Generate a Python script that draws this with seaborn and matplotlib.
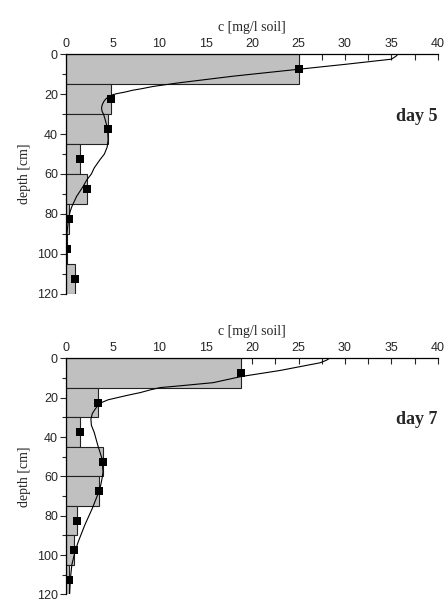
import numpy as np
import pandas as pd
import matplotlib
matplotlib.use("Agg")
import matplotlib.pyplot as plt
import seaborn as sns
from matplotlib.ticker import MultipleLocator

# layer midpoints (15 cm layers)
mid_depth = [7.5, 22.5, 37.5, 52.5, 67.5, 82.5, 97.5, 112.5]

# measured concentration per layer
day5_c = [25.1, 4.85, 4.5, 1.45, 2.23, 0.32, 0.07, 0.9]
day7_c = [18.8, 3.44, 1.5, 3.92, 3.5, 1.16, 0.88, 0.3]

# model curve
day5_curve_c = [35.7, 35.5, 35.0, 30.2, 25.1, 18.0, 12.2, 10.8, 9.3, 8.1, 7.1, 6.3, 5.5,
                5.0, 4.6, 4.3, 4.05, 3.9, 3.82, 3.8, 3.85, 4.0, 4.2, 4.45, 4.5, 4.4,
                4.1, 3.6, 3.0, 2.7, 2.2, 1.8, 1.1, 0.6, 0.4, 0.25, 0.07, 0.02, 0.0]
day5_curve_d = [0, 1.0, 2.5, 5.0, 7.5, 11.0, 14.3, 15.2, 16.2, 17.3, 18.1, 19.0, 19.7,
                20.3, 21.2, 22.2, 23.6, 25.0, 26.2, 27.2, 28.6, 30.0, 33.0, 37.5, 43.0, 46.5,
                50.0, 53.0, 57.0, 60.0, 63.0, 66.3, 71.3, 76.3, 79.0, 82.2, 89.7, 100, 120]
day7_curve_c = [28.3, 28.0, 27.3, 23.0, 18.8, 15.8, 12.0, 10.1, 9.0, 8.0, 6.7, 5.5, 4.5,
                3.8, 3.4, 3.1, 2.8, 2.65, 2.7, 3.0, 3.4, 3.85, 3.95, 3.85, 3.7, 3.5,
                2.8, 2.0, 1.3, 0.95, 0.6, 0.45, 0.35]
day7_curve_d = [0, 0.9, 2.2, 6.1, 9.2, 12.3, 14.0, 14.8, 16.0, 17.3, 18.6, 19.9, 21.0,
                22.4, 23.9, 25.8, 28.0, 30.8, 34.0, 37.5, 44.3, 51.0, 57.7, 61.0, 64.5, 67.8,
                76.2, 84.6, 93.0, 98.0, 104.8, 111.5, 120]

layer_edges = [0, 15, 30, 45, 60, 75, 90, 105, 120]
x_ticks = [0, 5, 10, 15, 20, 25, 30, 35, 40]
y_ticks = [0, 20, 40, 60, 80, 100, 120]

sns.set_style("ticks")
plt.rcParams["font.family"] = ["Liberation Sans", "DejaVu Sans"]

fig = plt.figure(figsize=(4.45, 6.02), dpi=100)
ax1 = fig.add_axes([0.149, 0.512, 0.835, 0.398])
ax2 = fig.add_axes([0.149, 0.0125, 0.835, 0.392])

panels = [
    (ax1, day5_c, day5_curve_c, day5_curve_d, "day 5"),
    (ax2, day7_c, day7_curve_c, day7_curve_d, "day 7"),
]

for ax, vals, cc, cd, label in panels:
    df = pd.DataFrame({"depth": mid_depth, "c": vals})
    sns.histplot(data=df, y="depth", weights="c", bins=layer_edges, ax=ax,
                 color="#c0c0c0", edgecolor="#222222", linewidth=0.8, alpha=1)
    sns.lineplot(x=cc, y=cd, sort=False, estimator=None, ax=ax,
                 color="black", linewidth=0.8)
    sns.scatterplot(data=df, x="c", y="depth", ax=ax, marker="s", s=28,
                    color="black", edgecolor="black", linewidth=0, zorder=5)

    ax.set_xlim(0, 40)
    ax.set_ylim(120, 0)
    ax.xaxis.tick_top()
    ax.xaxis.set_label_position("top")
    ax.set_xticks(x_ticks)
    ax.set_yticks(y_ticks)
    ax.xaxis.set_minor_locator(MultipleLocator(2.5))
    ax.yaxis.set_minor_locator(MultipleLocator(10))
    ax.tick_params(axis="x", which="both", direction="in", length=4, width=0.8,
                   labelsize=9, pad=3)
    ax.tick_params(axis="y", which="major", direction="out", length=4, width=0.8,
                   labelsize=9, pad=2)
    ax.tick_params(axis="y", which="minor", direction="out", length=3, width=0.8)
    for s in ["right", "bottom"]:
        ax.spines[s].set_visible(False)
    for s in ["left", "top"]:
        ax.spines[s].set_linewidth(0.9)
        ax.spines[s].set_color("black")
    ax.set_xlabel("c [mg/l soil]", family="Liberation Serif", fontsize=10, labelpad=5)
    ax.set_ylabel("depth [cm]", family="Liberation Serif", fontsize=10, labelpad=4)
    ax.text(40, 31, label, family="Liberation Serif", fontsize=13, fontweight="bold",
            ha="right", va="center")

fig.savefig("out.png", dpi=100)
